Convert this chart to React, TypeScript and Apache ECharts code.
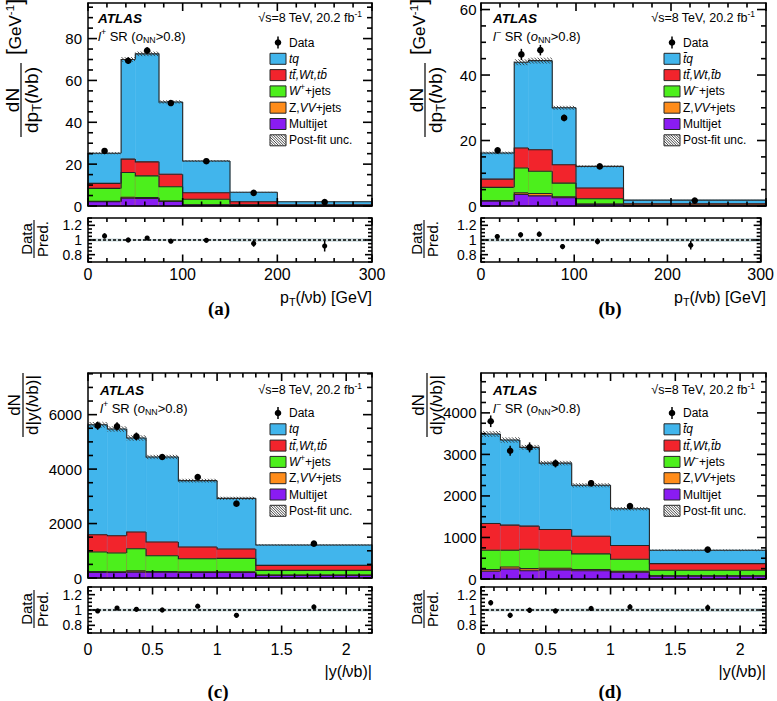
import React, { useEffect, useRef } from "react";
import * as echarts from "echarts";

const FF = "'Liberation Sans', Arial, Helvetica, sans-serif";

// ---------------- binning ----------------
const ptBinsPlus = [0, 35, 50, 75, 100, 150, 200, 300];
const ptBinsMinus = [0, 35, 50, 75, 100, 150, 300];
const rapBins = [0, 0.15, 0.3, 0.45, 0.7, 1.0, 1.3, 2.2];
const ratioTickLabels = [0.8, 1, 1.2];

// ---------------- (a) l+ , pT(lvb) ----------------
const aMultijet = [2.0, 3.7, 3.6, 2.2, 0.5, 0.15, 0.05];
const aZVV = [0.2, 0.5, 0.4, 0.2, 0.1, 0.05, 0.02];
const aWjets = [6.2, 11.8, 10.4, 6.8, 2.6, 0.5, 0.15];
const aTop = [2.4, 6.4, 6.7, 6.0, 3.1, 1.3, 0.35];
const aTq = [14.4, 47.6, 51.6, 34.5, 15.2, 4.6, 1.45];
const aUnc = [0.5, 1.1, 1.1, 0.8, 0.4, 0.15, 0.05];
const aData = [26.3, 69.4, 74.3, 49.2, 21.4, 6.3, 1.9];
const aDataErr = [0.9, 1.6, 1.5, 1.1, 0.5, 0.3, 0.15];
const aRatio = [1.056, 1.0, 1.026, 0.983, 0.996, 0.953, 0.918];
const aRatioErr = [0.035, 0.025, 0.022, 0.022, 0.025, 0.045, 0.075];

// ---------------- (b) l- , pT(lvb) ----------------
const bMultijet = [1.5, 3.5, 3.1, 2.5, 0.5, 0.1];
const bZVV = [0.2, 0.5, 0.7, 0.3, 0.1, 0.02];
const bWjets = [4.0, 7.6, 6.8, 4.2, 1.6, 0.18];
const bTop = [2.5, 6.1, 6.6, 5.6, 3.3, 0.4];
const bTq = [8.0, 26.2, 27.2, 17.4, 6.6, 1.1];
const bUnc = [0.4, 0.9, 0.9, 0.6, 0.3, 0.05];
const bData = [17.0, 46.3, 47.6, 26.9, 12.1, 1.65];
const bDataErr = [0.8, 1.7, 1.6, 1.0, 0.5, 0.12];
const bRatio = [1.047, 1.07, 1.08, 0.91, 0.98, 0.93];
const bRatioErr = [0.035, 0.035, 0.035, 0.035, 0.04, 0.06];

// ---------------- (c) l+ , |y(lvb)| ----------------
const cMultijet = [205, 205, 215, 210, 200, 200, 95];
const cZVV = [30, 25, 45, 25, 30, 25, 15];
const cWjets = [720, 688, 816, 584, 479, 495, 169];
const cTop = [636, 636, 614, 503, 430, 345, 184];
const cTq = [4039, 3920, 3453, 3123, 2436, 1860, 749];
const cUnc = [100, 100, 100, 80, 70, 60, 25];
const cData = [5595, 5570, 5203, 4445, 3710, 2730, 1260];
const cDataErr = [150, 150, 140, 110, 90, 80, 40];
const cRatio = [0.987, 1.026, 1.009, 1.0, 1.05, 0.93, 1.04];
const cRatioErr = [0.025, 0.025, 0.025, 0.022, 0.025, 0.03, 0.03];

// ---------------- (d) l- , |y(lvb)| ----------------
const dMultijet = [185, 242, 200, 220, 200, 165, 70];
const dZVV = [40, 48, 50, 38, 30, 20, 10];
const dWjets = [468, 403, 467, 435, 375, 290, 129];
const dTop = [645, 604, 556, 500, 426, 331, 161];
const dTq = [2153, 2049, 1896, 1597, 1226, 887, 323];
const dUnc = [70, 65, 60, 55, 50, 40, 18];
const dData = [3798, 3088, 3169, 2782, 2306, 1757, 709];
const dDataErr = [140, 120, 120, 95, 80, 65, 30];
const dRatio = [1.095, 0.93, 0.996, 0.987, 1.02, 1.04, 1.03];
const dRatioErr = [0.035, 0.035, 0.035, 0.03, 0.03, 0.035, 0.04];

// colours: multijet, Z/VV, W, top, tq (bottom -> top of stack)
const COLORS = ["#8A1CF2", "#FF8C1A", "#4CEF1C", "#F2242C", "#41B5EC"];
const OUTLINE = "#262626";
const HATCH = "#333333";

const legendPlus = [
  "Data",
  "{i|tq}",
  "{i|tt\u0304,Wt,tb\u0304}",
  "{i|W}{sup|+}{n|+jets}",
  "{n|Z,}{i|VV}{n|+jets}",
  "Multijet",
  "Post-fit unc.",
];
const legendMinus = [
  "Data",
  "{i|t\u0304q}",
  "{i|tt\u0304,Wt,t\u0304b}",
  "{i|W}{sup|\u2212}{n|+jets}",
  "{n|Z,}{i|VV}{n|+jets}",
  "Multijet",
  "Post-fit unc.",
];

const panels = [
  {
    id: "a", edges: ptBinsPlus, comps: [aMultijet, aZVV, aWjets, aTop, aTq], unc: aUnc,
    data: aData, dataErr: aDataErr, ratio: aRatio, ratioErr: aRatioErr,
    xMax: 300, xMajor: 100, xMinor: 20, yMax: 97, yMajor: 20, yMinor: 5,
    left: 88, width: 284, mainTop: 3, mainH: 203, ratioTop: 218, ratioH: 44,
    yLabelMargin: 6, xLabelMargin: 4, plus: true, kind: "pt",
    textX: 98, legendX: 270, sqrtRight: 362, topY: 18, regionY: 36, legendY: 42.5,
    titleX: 21, titleY: 100, bracketX: 15, bracketY: 27, ratioTitleX: 34, ratioTitleY: 239,
    xTitleRight: 372, xTitleY: 297, capX: 219, capY: 308, cap: "(a)",
  },
  {
    id: "b", edges: ptBinsMinus, comps: [bMultijet, bZVV, bWjets, bTop, bTq], unc: bUnc,
    data: bData, dataErr: bDataErr, ratio: bRatio, ratioErr: bRatioErr,
    xMax: 300, xMajor: 100, xMinor: 20, yMax: 62, yMajor: 20, yMinor: 5,
    left: 481, width: 285, mainTop: 3, mainH: 203, ratioTop: 218, ratioH: 44,
    yLabelMargin: 4.5, xLabelMargin: 4, plus: false, kind: "pt",
    textX: 493, legendX: 664, sqrtRight: 755, topY: 18, regionY: 36, legendY: 42.5,
    titleX: 425, titleY: 100, bracketX: 419, bracketY: 27, ratioTitleX: 424, ratioTitleY: 239,
    xTitleRight: 766, xTitleY: 297, capX: 610, capY: 308, cap: "(b)",
  },
  {
    id: "c", edges: rapBins, comps: [cMultijet, cZVV, cWjets, cTop, cTq], unc: cUnc,
    data: cData, dataErr: cDataErr, ratio: cRatio, ratioErr: cRatioErr,
    xMax: 2.2, xMajor: 0.5, xMinor: 0.1, yMax: 7530, yMajor: 2000, yMinor: 500,
    left: 88, width: 284, mainTop: 373, mainH: 205, ratioTop: 587, ratioH: 46,
    yLabelMargin: 6, xLabelMargin: 8.5, plus: true, kind: "y",
    textX: 100, legendX: 270, sqrtRight: 362, topY: 390, regionY: 408, legendY: 413,
    titleX: 23, titleY: 405, bracketX: 0, bracketY: 0, ratioTitleX: 34, ratioTitleY: 609,
    xTitleRight: 372, xTitleY: 671, capX: 218, capY: 691, cap: "(c)",
  },
  {
    id: "d", edges: rapBins, comps: [dMultijet, dZVV, dWjets, dTop, dTq], unc: dUnc,
    data: dData, dataErr: dDataErr, ratio: dRatio, ratioErr: dRatioErr,
    xMax: 2.2, xMajor: 0.5, xMinor: 0.1, yMax: 4960, yMajor: 1000, yMinor: 250,
    left: 481, width: 285, mainTop: 373, mainH: 206, ratioTop: 587, ratioH: 46,
    yLabelMargin: 4.5, xLabelMargin: 8.5, plus: false, kind: "y",
    textX: 493, legendX: 664, sqrtRight: 755, topY: 390, regionY: 408, legendY: 413,
    titleX: 427, titleY: 405, bracketX: 0, bracketY: 0, ratioTitleX: 424, ratioTitleY: 609,
    xTitleRight: 766, xTitleY: 671, capX: 610, capY: 691, cap: "(d)",
  },
];

const isMult = (v: number, step: number) => Math.abs(v / step - Math.round(v / step)) < 1e-6;
const stepValues = (a: number, b: number, s: number) => {
  const out: number[] = [];
  for (let k = 0; k < 1000; k++) {
    const v = +(a + k * s).toFixed(6);
    if (v > b + 1e-9) break;
    out.push(v);
  }
  return out;
};

function rich(s: number) {
  return {
    n: { fontSize: s, fontFamily: FF, fill: "#000", lineHeight: s * 1.3 },
    i: { fontSize: s, fontFamily: FF, fill: "#000", fontStyle: "italic", lineHeight: s * 1.3 },
    b: { fontSize: s * 1.25, fontFamily: FF, fill: "#000", lineHeight: s * 1.3 },
    sup: { fontSize: s * 0.68, fontFamily: FF, fill: "#000", verticalAlign: "top", lineHeight: s * 0.8 },
    sub: { fontSize: s * 0.68, fontFamily: FF, fill: "#000", verticalAlign: "bottom", lineHeight: s * 0.8 },
  };
}

function txt(x: number, y: number, text: string, size: number, o: any = {}) {
  const align = o.align || "left";
  const va = o.va || "middle";
  return {
    type: "text",
    x, y,
    rotation: o.rotation || 0,
    silent: true,
    z: 100,
    style: {
      text,
      x: 0, y: 0,
      fontSize: size,
      fontFamily: o.fontFamily || FF,
      fontWeight: o.fontWeight || "normal",
      fontStyle: o.fontStyle || "normal",
      fill: "#000",
      align, textAlign: align,
      verticalAlign: va, textVerticalAlign: va,
      rich: rich(size),
    },
  };
}

function hatchLines(X0: number, Y0: number, X1: number, Y1: number, s: number, lw: number, z?: number) {
  const out: any[] = [];
  const h = Y1 - Y0;
  if (h <= 0 || X1 <= X0) return out;
  let t = Math.ceil((X0 - h) / s) * s;
  for (; t < X1; t += s) {
    let xs = t, ys = Y0, xe = t + h, ye = Y1;
    if (xs < X0) { ys += X0 - xs; xs = X0; }
    if (xe > X1) { ye -= xe - X1; xe = X1; }
    if (xe - xs <= 0.3) continue;
    const el: any = { type: "line", shape: { x1: xs, y1: ys, x2: xe, y2: ye }, style: { stroke: HATCH, lineWidth: lw } };
    if (z !== undefined) { el.z = z; el.silent = true; }
    out.push(el);
  }
  return out;
}

type TickSpec = {
  xi: number; yi: number; xMin: number; xMax: number; yMin: number; yMax: number;
  xMaj: number[]; xMinr: number[]; yMaj: number[]; yMinr: number[]; L: number[];
};

function buildOption() {
  const grids: any[] = [];
  const xAxes: any[] = [];
  const yAxes: any[] = [];
  const series: any[] = [];
  const graphics: any[] = [];
  const tickSpecs: TickSpec[] = [];

  const addGrid = (left: number, top: number, width: number, height: number) => {
    grids.push({ left, top, width, height, containLabel: false });
    return grids.length - 1;
  };

  const addAxes = (gi: number, dim: "x" | "y", min: number, max: number, major: number, labelOpt: any, customLabels?: number[]) => {
    const arr = dim === "x" ? xAxes : yAxes;
    const positions = dim === "x" ? ["bottom", "top"] : ["left", "right"];
    const first = arr.length;
    positions.forEach((pos, pi) => {
      let lab: any = { show: false };
      if (pi === 0 && labelOpt) {
        lab = { ...labelOpt };
        if (customLabels) lab.customValues = customLabels;
      }
      arr.push({
        type: "value", gridIndex: gi, position: pos, min, max, interval: major, z: 10, silent: true,
        axisLine: { show: true, onZero: false, lineStyle: { color: "#000", width: 1.5 } },
        axisTick: { show: false }, axisLabel: lab,
        splitLine: { show: false }, splitArea: { show: false }, minorTick: { show: false },
      });
    });
    return first;
  };

  panels.forEach((p) => {
    const n = p.edges.length - 1;
    const gMain = addGrid(p.left, p.mainTop, p.width, p.mainH);
    const gRatio = addGrid(p.left, p.ratioTop, p.width, p.ratioH);

    const mx = addAxes(gMain, "x", 0, p.xMax, p.xMajor, null);
    const my = addAxes(gMain, "y", 0, p.yMax, p.yMajor, {
      show: true, fontSize: 15, fontFamily: FF, color: "#000", margin: p.yLabelMargin,
      formatter: (v: number) => (isMult(v, p.yMajor) ? String(v) : ""),
    });
    const rx = addAxes(gRatio, "x", 0, p.xMax, p.xMajor, {
      show: true, fontSize: 16, fontFamily: FF, color: "#000", margin: p.xLabelMargin,
      formatter: (v: number) => (isMult(v, p.xMajor) ? String(v) : ""),
    });
    const ry = addAxes(gRatio, "y", 0.7, 1.3, 0.1, {
      show: true, fontSize: 14, fontFamily: FF, color: "#000", margin: p.yLabelMargin,
      formatter: (v: number) => {
        const hit = ratioTickLabels.find((t) => Math.abs(t - v) < 1e-6);
        return hit === undefined ? "" : String(hit);
      },
    }, ratioTickLabels);

    const xMajVals = stepValues(0, p.xMax, p.xMajor);
    const xMinVals = stepValues(0, p.xMax, p.xMinor).filter((v) => !isMult(v, p.xMajor));
    const yMajVals = stepValues(0, p.yMax, p.yMajor);
    const yMinVals = stepValues(0, p.yMax, p.yMinor).filter((v) => !isMult(v, p.yMajor));
    const rMinVals = stepValues(0.7, 1.3, 0.05).filter((v) => !ratioTickLabels.some((t) => Math.abs(t - v) < 1e-6));
    tickSpecs.push({ xi: mx, yi: my, xMin: 0, xMax: p.xMax, yMin: 0, yMax: p.yMax, xMaj: xMajVals, xMinr: xMinVals, yMaj: yMajVals, yMinr: yMinVals, L: [8, 4.5, 9, 5] });
    tickSpecs.push({ xi: rx, yi: ry, xMin: 0, xMax: p.xMax, yMin: 0.7, yMax: 1.3, xMaj: xMajVals, xMinr: xMinVals, yMaj: ratioTickLabels, yMinr: rMinVals, L: [7.5, 4, 7, 4] });

    const comps = p.comps;
    const cum = (i: number, k: number) => {
      let s = 0;
      for (let j = 0; j <= k; j++) s += comps[j][i];
      return s;
    };

    // stacked histogram + hatched uncertainty
    const stackData = [];
    for (let i = 0; i < n; i++) stackData.push([p.edges[i], p.edges[i + 1], ...comps.map((c) => c[i]), p.unc[i]]);
    series.push({
      type: "custom", xAxisIndex: mx, yAxisIndex: my, data: stackData, silent: true, z: 2,
      renderItem: (params: any, api: any) => {
        const i = params.dataIndex;
        const x0 = api.value(0), x1 = api.value(1);
        const levels: number[] = [];
        let s = 0;
        for (let k = 0; k < 5; k++) { s += api.value(2 + k); levels.push(s); }
        const children: any[] = [];
        for (let k = 4; k >= 0; k--) {
          const A = api.coord([x0, levels[k]]);
          const B = api.coord([x1, 0]);
          children.push({
            type: "rect", shape: { x: A[0], y: A[1], width: B[0] - A[0], height: B[1] - A[1] },
            style: { fill: COLORS[k], stroke: COLORS[k], lineWidth: 0.5 },
          });
        }
        for (let k = 0; k < 5; k++) {
          const prev = i > 0 ? cum(i - 1, k) : 0;
          const pA = api.coord([x0, prev]);
          const pB = api.coord([x0, levels[k]]);
          const pC = api.coord([x1, levels[k]]);
          const pts = [pA, pB, pC];
          if (i === n - 1) pts.push(api.coord([x1, 0]));
          children.push({ type: "polyline", shape: { points: pts }, style: { stroke: OUTLINE, lineWidth: 1.1, fill: null } });
        }
        const u = api.value(7);
        const H0 = api.coord([x0, levels[4] + u]);
        const H1 = api.coord([x1, levels[4] - u]);
        hatchLines(H0[0], H0[1], H1[0], H1[1], 3.2, 0.9).forEach((l) => children.push(l));
        return { type: "group", children };
      },
    });

    // data points
    const ptsData = p.data.map((v, i) => [(p.edges[i] + p.edges[i + 1]) / 2, v, p.dataErr[i]]);
    series.push({
      type: "custom", xAxisIndex: mx, yAxisIndex: my, data: ptsData, silent: true, z: 5,
      renderItem: (params: any, api: any) => {
        const x = api.value(0), y = api.value(1), e = api.value(2);
        const c = api.coord([x, y]);
        const t = api.coord([x, y + e]);
        const b = api.coord([x, y - e]);
        return {
          type: "group",
          children: [
            { type: "line", shape: { x1: t[0], y1: t[1], x2: b[0], y2: b[1] }, style: { stroke: "#000", lineWidth: 1.5 } },
            { type: "circle", shape: { cx: c[0], cy: c[1], r: 3.3 }, style: { fill: "#000" } },
          ],
        };
      },
    });

    // ratio uncertainty band
    const bandData = [];
    for (let i = 0; i < n; i++) bandData.push([p.edges[i], p.edges[i + 1], p.unc[i] / cum(i, 4)]);
    series.push({
      type: "custom", xAxisIndex: rx, yAxisIndex: ry, data: bandData, silent: true, z: 2,
      renderItem: (params: any, api: any) => {
        const x0 = api.value(0), x1 = api.value(1), u = api.value(2);
        const A = api.coord([x0, 1 + u]);
        const B = api.coord([x1, 1 - u]);
        return {
          type: "rect", shape: { x: A[0], y: A[1], width: B[0] - A[0], height: B[1] - A[1] },
          style: { fill: "rgba(165,190,195,0.6)" },
        };
      },
    });
    // dashed unity line
    series.push({
      type: "line", xAxisIndex: rx, yAxisIndex: ry, data: [[0, 1], [p.xMax, 1]], symbol: "none", silent: true, z: 3,
      lineStyle: { color: "#000", width: 1.5, type: [3, 2] },
    });
    // ratio points
    const rData = p.ratio.map((v, i) => [(p.edges[i] + p.edges[i + 1]) / 2, v, p.ratioErr[i]]);
    series.push({
      type: "custom", xAxisIndex: rx, yAxisIndex: ry, data: rData, silent: true, z: 5,
      renderItem: (params: any, api: any) => {
        const x = api.value(0), y = api.value(1), e = api.value(2);
        const c = api.coord([x, y]);
        const t = api.coord([x, y + e]);
        const b = api.coord([x, y - e]);
        return {
          type: "group",
          children: [
            { type: "line", shape: { x1: t[0], y1: t[1], x2: b[0], y2: b[1] }, style: { stroke: "#000", lineWidth: 1.5 } },
            { type: "circle", shape: { cx: c[0], cy: c[1], r: 2.6 }, style: { fill: "#000" } },
          ],
        };
      },
    });

    // ---------------- texts ----------------
    graphics.push(txt(p.textX, p.topY, "ATLAS", 13.5, { fontWeight: "bold", fontStyle: "italic" }));
    graphics.push(txt(p.sqrtRight, p.topY, "{n|\u221As=8 TeV, 20.2 fb}{sup|-1}", 12.5, { align: "right" }));
    graphics.push(txt(p.textX, p.regionY,
      `{i|l}{sup|${p.plus ? "+" : "\u2212"}}{n| SR (}{i|o}{sub|NN}{n|>0.8)}`, 13));

    // legend
    const labels = p.plus ? legendPlus : legendMinus;
    const rowH = 16.3;
    labels.forEach((lab, r) => {
      const y = p.legendY + r * rowH;
      const bx = p.legendX;
      if (r === 0) {
        graphics.push({ type: "line", silent: true, z: 100, shape: { x1: bx + 8, y1: y - 6, x2: bx + 8, y2: y + 6 }, style: { stroke: "#000", lineWidth: 1.5 } });
        graphics.push({ type: "circle", silent: true, z: 100, shape: { cx: bx + 8, cy: y, r: 3.3 }, style: { fill: "#000" } });
      } else if (r <= 5) {
        graphics.push({ type: "rect", silent: true, z: 100, shape: { x: bx, y: y - 5.5, width: 16, height: 11 }, style: { fill: COLORS[5 - r], stroke: OUTLINE, lineWidth: 1 } });
      } else {
        graphics.push({ type: "rect", silent: true, z: 100, shape: { x: bx, y: y - 5.5, width: 16, height: 11 }, style: { fill: "#fff", stroke: OUTLINE, lineWidth: 1 } });
        hatchLines(bx, y - 5.5, bx + 16, y + 5.5, 2.6, 0.9, 101).forEach((l) => graphics.push(l));
      }
      graphics.push(txt(bx + 19, y, lab, 12));
    });

    // y-axis title (fraction)
    if (p.kind === "pt") {
      const s = 19;
      graphics.push({
        type: "group", x: p.titleX, y: p.titleY, rotation: Math.PI / 2, silent: true, z: 100,
        children: [
          { ...txt(0, -8.5, "dN", s, { align: "center" }), rotation: 0 },
          { type: "line", z: 100, shape: { x1: -37, y1: 0, x2: 37, y2: 0 }, style: { stroke: "#000", lineWidth: 1.2 } },
          { ...txt(0, 10, "{n|dp}{sub|T}{n|(}{i|l}{n|\u03BDb)}", s, { align: "center" }), rotation: 0 },
        ],
      });
      graphics.push(txt(p.bracketX, p.bracketY, "{b|[}{n|GeV}{sup|-1}{b|]}", 17, { align: "center", rotation: Math.PI / 2 }));
    } else {
      const s = 17;
      graphics.push({
        type: "group", x: p.titleX, y: p.titleY, rotation: Math.PI / 2, silent: true, z: 100,
        children: [
          { ...txt(0, -8.5, "dN", s, { align: "center" }), rotation: 0 },
          { type: "line", z: 100, shape: { x1: -32, y1: 0, x2: 32, y2: 0 }, style: { stroke: "#000", lineWidth: 1.2 } },
          { ...txt(0, 9.5, "{n|d|y(}{i|l}{n|\u03BDb)|}", s, { align: "center" }), rotation: 0 },
        ],
      });
    }
    // ratio title
    graphics.push({
      type: "group", x: p.ratioTitleX, y: p.ratioTitleY, rotation: Math.PI / 2, silent: true, z: 100,
      children: [
        { ...txt(0, -8, "Data", 15, { align: "center" }), rotation: 0 },
        { type: "line", z: 100, shape: { x1: -19, y1: 0, x2: 19, y2: 0 }, style: { stroke: "#000", lineWidth: 1.1 } },
        { ...txt(0, 8, "Pred.", 15, { align: "center" }), rotation: 0 },
      ],
    });
    // x title
    if (p.kind === "pt") {
      graphics.push(txt(p.xTitleRight, p.xTitleY, "{n|p}{sub|T}{n|(}{i|l}{n|\u03BDb) [GeV]}", 16, { align: "right" }));
    } else {
      graphics.push(txt(p.xTitleRight, p.xTitleY, "{n||y(}{i|l}{n|\u03BDb)|}", 16, { align: "right" }));
    }
    // caption
    graphics.push(txt(p.capX, p.capY, p.cap, 19, { align: "center", fontWeight: "bold", fontFamily: "'Liberation Serif', 'Times New Roman', serif" }));
  });

  return {
    option: {
      animation: false,
      backgroundColor: "#fff",
      grid: grids,
      xAxis: xAxes,
      yAxis: yAxes,
      series,
    },
    graphics,
    tickSpecs,
  };
}

// inside tick marks on all four sides of each frame, positioned with the chart's own axis scales
function buildTicks(chart: any, specs: TickSpec[]) {
  const out: any[] = [];
  const seg = (x1: number, y1: number, x2: number, y2: number) =>
    out.push({ type: "line", silent: true, z: 120, shape: { x1, y1, x2, y2 }, style: { stroke: "#000", lineWidth: 1.6 } });
  specs.forEach((s) => {
    const px = (x: number, y: number) => chart.convertToPixel({ xAxisIndex: s.xi, yAxisIndex: s.yi }, [x, y]);
    const addX = (vals: number[], len: number) => vals.forEach((v) => {
      const b = px(v, s.yMin);
      const t = px(v, s.yMax);
      if (!b || !t) return;
      seg(b[0], b[1], b[0], b[1] - len);
      seg(t[0], t[1], t[0], t[1] + len);
    });
    const addY = (vals: number[], len: number) => vals.forEach((v) => {
      const l = px(s.xMin, v);
      const r = px(s.xMax, v);
      if (!l || !r) return;
      seg(l[0], l[1], l[0] + len, l[1]);
      seg(r[0], r[1], r[0] - len, r[1]);
    });
    addX(s.xMaj, s.L[0]);
    addX(s.xMinr, s.L[1]);
    addY(s.yMaj, s.L[2]);
    addY(s.yMinr, s.L[3]);
  });
  return out;
}

export default function App() {
  const ref = useRef<HTMLDivElement>(null);
  useEffect(() => {
    const chart = echarts.init(ref.current as HTMLDivElement, null, { renderer: "svg" });
    const built = buildOption();
    chart.setOption(built.option as any);
    const ticks = buildTicks(chart, built.tickSpecs);
    chart.setOption({ graphic: { elements: [...built.graphics, ...ticks] } } as any);
    return () => chart.dispose();
  }, []);
  return (
    <div
      ref={ref}
      style={{ position: "absolute", left: 0, top: 0, width: 777, height: 701, background: "#fff" }}
    />
  );
}
